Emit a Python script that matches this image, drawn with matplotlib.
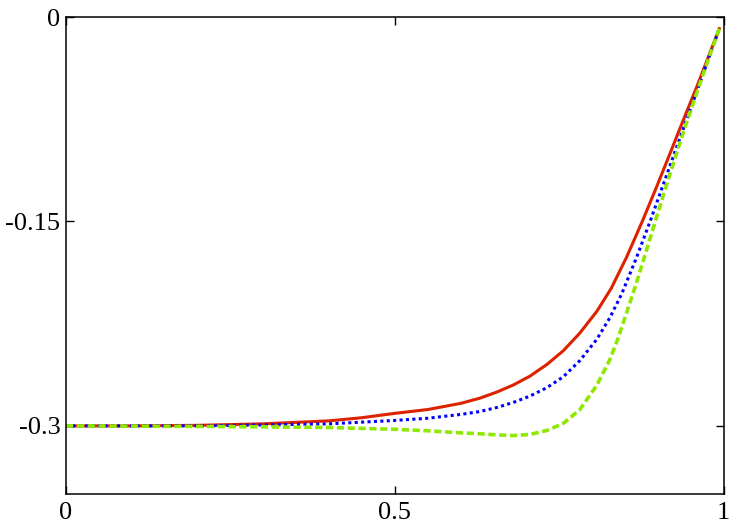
import numpy as np
import matplotlib.pyplot as plt

plt.rcParams['font.family'] = ['Liberation Serif', 'DejaVu Serif']

# sample positions
x_red = [0.0, 0.1, 0.2, 0.3, 0.4, 0.45, 0.5, 0.55, 0.6, 0.629, 0.655, 0.680,
         0.705, 0.731, 0.756, 0.781, 0.807, 0.829, 0.852, 0.877, 0.898,
         0.918, 0.938, 0.959, 0.976, 0.994]
y_red = [-0.300, -0.300, -0.2996, -0.2985, -0.2963, -0.2940, -0.2908, -0.2880,
         -0.2835, -0.2797, -0.2752, -0.2700, -0.2636, -0.2550, -0.2449,
         -0.2320, -0.2160, -0.1990, -0.1765, -0.1490, -0.1245, -0.1005,
         -0.0762, -0.0512, -0.0300, -0.0075]

x_blue = [0.0, 0.1, 0.2, 0.3, 0.4, 0.5, 0.55, 0.6, 0.629, 0.655, 0.680, 0.705,
          0.731, 0.756, 0.781, 0.807, 0.827, 0.845, 0.867, 0.888, 0.908,
          0.928, 0.943, 0.964, 0.994]
y_blue = [-0.300, -0.300, -0.300, -0.2993, -0.2985, -0.2960, -0.2944, -0.2916,
          -0.2895, -0.2865, -0.2828, -0.2782, -0.2720, -0.2640, -0.2522,
          -0.2365, -0.2205, -0.2030, -0.1770, -0.1500, -0.1230, -0.0960,
          -0.0760, -0.0480, -0.0075]

x_green = [0.0, 0.1, 0.2, 0.3, 0.4, 0.5, 0.55, 0.6, 0.629, 0.655, 0.680, 0.705,
           0.731, 0.756, 0.781, 0.807, 0.827, 0.839, 0.865, 0.883, 0.898,
           0.913, 0.931, 0.943, 0.964, 0.979, 0.994]
y_green = [-0.300, -0.3002, -0.3004, -0.3007, -0.3012, -0.3025, -0.3036, -0.3051,
           -0.3058, -0.3066, -0.3071, -0.3063, -0.3034, -0.2982, -0.2882,
           -0.2702, -0.2512, -0.2362, -0.1985, -0.1704, -0.1467, -0.1233,
           -0.0959, -0.0783, -0.0485, -0.0278, -0.0075]

xticks = [0, 0.5, 1]
xtick_labels = ['0', '0.5', '1']
yticks = [0, -0.15, -0.3]
ytick_labels = ['0', '-0.15', '-0.3']

fig = plt.figure(figsize=(7.5, 5.25), dpi=100)
ax = fig.add_axes([0.088, 0.059, 0.877, 0.9086])

ax.plot(x_red, y_red, color='#dd2200', lw=2.2, solid_capstyle='butt',
        solid_joinstyle='round')
ax.plot(x_blue, y_blue, color='#0000ff', lw=2.2, linestyle=(0, (1, 1.1)))
ax.plot(x_green, y_green, color='#8fe800', lw=2.6, linestyle=(0, (2, 1)))

ax.set_xlim(0, 1)
ax.set_ylim(-0.35, 0)
ax.set_xticks(xticks)
ax.set_xticklabels(xtick_labels)
ax.set_yticks(yticks)
ax.set_yticklabels(ytick_labels)
ax.tick_params(direction='in', top=True, right=True, length=6, width=1,
               labelsize=19)
ax.tick_params(axis='y', pad=4)
ax.tick_params(axis='x', pad=6)
for s in ax.spines.values():
    s.set_linewidth(1.1)

fig.savefig('out.png', dpi=100)
